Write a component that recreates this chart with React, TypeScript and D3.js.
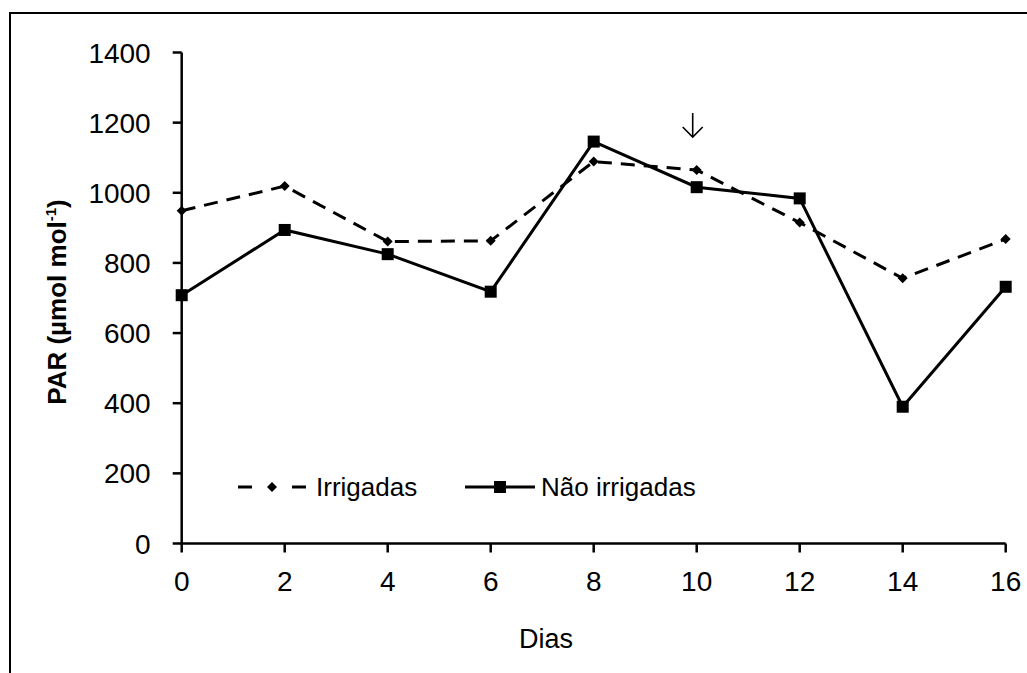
import React from "react";
import * as d3 from "d3";

// Days of measurement and PAR readings per treatment
const dias = [0, 2, 4, 6, 8, 10, 12, 14, 16];
const irrigadas = [949, 1019, 861, 863, 1089, 1065, 915, 756, 868];
const naoIrrigadas = [708, 894, 825, 718, 1146, 1016, 984, 390, 732];
const xTicks = [0, 2, 4, 6, 8, 10, 12, 14, 16];
const yTicks = [0, 200, 400, 600, 800, 1000, 1200, 1400];
const seriesNames = ["Irrigadas", "Não irrigadas"];
const arrowDay = 10;

const W = 1027;
const H = 673;
const FONT = "'Liberation Sans', Arial, sans-serif";

export default function App() {
  const x = d3.scaleLinear().domain([0, 16]).range([181.7, 1005.7]);
  const y = d3.scaleLinear().domain([0, 1400]).range([543.5, 52.5]);

  const line = d3
    .line<[number, number]>()
    .x((d) => x(d[0]))
    .y((d) => y(d[1]));

  const irrPts: [number, number][] = dias.map((d, i) => [d, irrigadas[i]]);
  const naoPts: [number, number][] = dias.map((d, i) => [d, naoIrrigadas[i]]);

  const diamond = (cx: number, cy: number, r = 5) =>
    `M${cx},${cy - r}L${cx + r},${cy}L${cx},${cy + r}L${cx - r},${cy}Z`;

  const legendY = 487;
  const ax = x(arrowDay) - 4;

  return (
    <svg
      width={W}
      height={H}
      style={{ position: "absolute", left: 0, top: 0, background: "#fff" }}
      fontFamily={FONT}
    >
      {/* outer frame */}
      <rect x={10} y={13} width={1030} height={680} fill="none" stroke="#000" strokeWidth={2} />

      {/* y axis */}
      <line x1={x(0)} x2={x(0)} y1={y(1400)} y2={y(0)} stroke="#000" strokeWidth={2.5} />
      {yTicks.map((t) => (
        <g key={"y" + t}>
          <line x1={x(0) - 9} x2={x(0)} y1={y(t)} y2={y(t)} stroke="#000" strokeWidth={2.5} />
          <text
            x={x(0) - 31}
            y={y(t)}
            dy="0.36em"
            textAnchor="end"
            fontSize={28}
            fill="#000"
          >
            {t}
          </text>
        </g>
      ))}

      {/* x axis */}
      <line x1={x(0)} x2={x(16)} y1={y(0)} y2={y(0)} stroke="#000" strokeWidth={2.5} />
      {xTicks.map((t) => (
        <g key={"x" + t}>
          <line x1={x(t)} x2={x(t)} y1={y(0)} y2={y(0) + 9} stroke="#000" strokeWidth={2.5} />
          <text x={x(t)} y={y(0) + 47} textAnchor="middle" fontSize={28} fill="#000">
            {t}
          </text>
        </g>
      ))}

      {/* axis titles */}
      <text x={546} y={648} textAnchor="middle" fontSize={27} fill="#000">
        Dias
      </text>
      <text
        transform={`translate(66, 302) rotate(-90)`}
        textAnchor="middle"
        fontSize={26}
        fontWeight="bold"
        fill="#000"
      >
        PAR (µmol mol
        <tspan dy={-10} fontSize={15}>-1</tspan>
        <tspan dy={10}>)</tspan>
      </text>

      {/* series lines */}
      <path
        d={line(irrPts) ?? ""}
        fill="none"
        stroke="#000"
        strokeWidth={3}
        strokeDasharray="14 9"
      />
      <path d={line(naoPts) ?? ""} fill="none" stroke="#000" strokeWidth={3} />

      {/* markers */}
      {irrPts.map((p, i) => (
        <path key={"d" + i} d={diamond(x(p[0]), y(p[1]))} fill="#000" />
      ))}
      {naoPts.map((p, i) => (
        <rect key={"s" + i} x={x(p[0]) - 6} y={y(p[1]) - 6} width={12} height={12} fill="#000" />
      ))}

      {/* arrow marking day 10 */}
      <g stroke="#000" strokeWidth={1.6} fill="none">
        <line x1={ax} x2={ax} y1={113} y2={137} />
        <polyline points={`${ax - 10},127 ${ax},137 ${ax + 10},127`} />
      </g>

      {/* legend */}
      <g>
        <line x1={238} x2={306} y1={legendY} y2={legendY} stroke="#000" strokeWidth={3} strokeDasharray="14 40" />
        <path d={diamond(272, legendY)} fill="#000" />
        <text x={316} y={legendY} dy="0.36em" fontSize={26} fill="#000">
          {seriesNames[0]}
        </text>
        <line x1={465} x2={535} y1={legendY} y2={legendY} stroke="#000" strokeWidth={3} />
        <rect x={494} y={legendY - 6} width={12} height={12} fill="#000" />
        <text x={541} y={legendY} dy="0.36em" fontSize={26} fill="#000">
          {seriesNames[1]}
        </text>
      </g>
    </svg>
  );
}
